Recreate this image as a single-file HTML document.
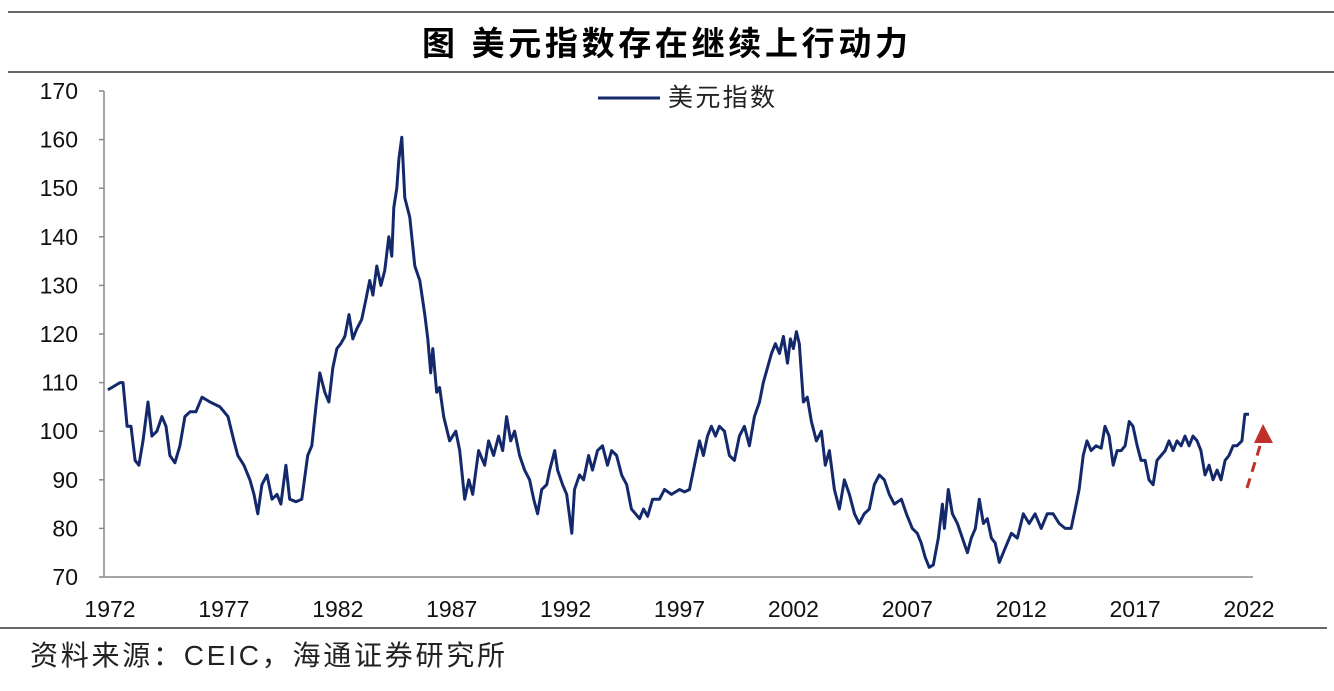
<!DOCTYPE html>
<html><head><meta charset="utf-8"><style>
body{margin:0;background:#fff;}
svg text{font-family:"Liberation Sans","Noto Sans CJK SC",sans-serif;}
</style></head><body>
<svg width="1334" height="686" viewBox="0 0 1334 686" xmlns="http://www.w3.org/2000/svg">
<line x1="8" y1="12" x2="1334" y2="12" stroke="#333" stroke-width="1.5"/>
<text x="422" y="55" font-size="33" font-weight="bold" fill="#000" textLength="486" lengthAdjust="spacing">图 美元指数存在继续上行动力</text>
<line x1="8" y1="72" x2="1334" y2="72" stroke="#333" stroke-width="1.5"/>
<g id="yaxis"></g>
<g id="xaxis"></g>
<path id="series" fill="none" stroke="#14296b" stroke-width="3" stroke-linejoin="round"/>
<g>
<line x1="598" y1="98" x2="660" y2="98" stroke="#14296b" stroke-width="3"/>
<text x="668" y="106" font-size="25" fill="#222" textLength="107" lengthAdjust="spacing">美元指数</text>
</g>
<g>
<line x1="1247" y1="488" x2="1260" y2="446" stroke="#c0302a" stroke-width="3" stroke-dasharray="10,7"/>
<polygon points="1263,424 1254,443 1273,443" fill="#c0302a"/>
</g>
<line x1="0" y1="628" x2="1327" y2="628" stroke="#333" stroke-width="1.5"/>
<text x="30" y="665" font-size="28" fill="#222" textLength="475" lengthAdjust="spacing">资料来源：CEIC，海通证券研究所</text>
</svg>
<script>
const yTicks=[70,80,90,100,110,120,130,140,150,160,170];
const xTickLabels=["1972","1977","1982","1987","1992","1997","2002","2007","2012","2017","2022"];
const dates=[1971.91,1972.44,1972.57,1972.75,1972.92,1973.10,1973.27,1973.45,1973.67,1973.84,1974.06,1974.28,1974.46,1974.63,1974.85,1975.07,1975.29,1975.51,1975.77,1976.04,1976.39,1976.83,1977.18,1977.44,1977.61,1977.88,1978.14,1978.32,1978.49,1978.67,1978.89,1979.11,1979.33,1979.50,1979.72,1979.89,1980.16,1980.42,1980.68,1980.86,1981.04,1981.21,1981.43,1981.61,1981.78,1981.96,1982.13,1982.31,1982.49,1982.66,1982.83,1983.05,1983.23,1983.40,1983.54,1983.71,1983.89,1984.06,1984.24,1984.37,1984.46,1984.59,1984.68,1984.81,1984.94,1985.16,1985.38,1985.60,1985.82,1985.95,1986.08,1986.17,1986.34,1986.47,1986.65,1986.91,1987.18,1987.35,1987.57,1987.75,1987.92,1988.18,1988.45,1988.62,1988.84,1989.06,1989.24,1989.41,1989.59,1989.76,1989.98,1990.20,1990.42,1990.60,1990.77,1990.95,1991.17,1991.30,1991.52,1991.65,1991.87,1992.05,1992.27,1992.39,1992.61,1992.79,1993.01,1993.18,1993.40,1993.62,1993.84,1994.02,1994.24,1994.46,1994.68,1994.89,1995.07,1995.25,1995.42,1995.60,1995.82,1996.12,1996.34,1996.65,1997.00,1997.22,1997.44,1997.70,1997.88,1998.05,1998.23,1998.40,1998.58,1998.75,1998.97,1999.19,1999.41,1999.63,1999.85,2000.07,2000.29,2000.51,2000.68,2000.86,2001.04,2001.21,2001.39,2001.56,2001.74,2001.87,2002.00,2002.13,2002.26,2002.44,2002.61,2002.79,2003.01,2003.23,2003.40,2003.58,2003.80,2004.02,2004.24,2004.46,2004.68,2004.89,2005.11,2005.33,2005.55,2005.77,2005.99,2006.21,2006.43,2006.74,2006.96,2007.22,2007.44,2007.61,2007.79,2007.96,2008.14,2008.36,2008.54,2008.63,2008.80,2008.98,2009.20,2009.42,2009.64,2009.81,2009.99,2010.16,2010.34,2010.51,2010.69,2010.86,2011.04,2011.30,2011.57,2011.83,2012.09,2012.35,2012.61,2012.88,2013.14,2013.40,2013.67,2013.93,2014.19,2014.37,2014.54,2014.72,2014.89,2015.07,2015.29,2015.51,2015.68,2015.86,2016.04,2016.21,2016.39,2016.56,2016.74,2016.91,2017.09,2017.26,2017.44,2017.61,2017.79,2017.96,2018.14,2018.32,2018.49,2018.67,2018.84,2019.02,2019.19,2019.37,2019.54,2019.72,2019.89,2020.07,2020.25,2020.42,2020.60,2020.77,2020.95,2021.12,2021.30,2021.47,2021.69,2021.82,2022.00];
const values=[108.5,110,110,101,101,94,93,98,106,99,100,103,101,95,93.5,97,103,104,104,107,106,105,103,98,95,93,90,87,83,89,91,86,87,85,93,86,85.5,86,95,97,105,112,108,106,113,117,118,119.5,124,119,121,123,127,131,128,134,130,133,140,136,146,150,156,160.5,148,144,134,131,124,119,112,117,108,109,103,98,100,96,86,90,87,96,93,98,95,99,96,103,98,100,95,92,90,86,83,88,89,92,96,92,89,87,79,88,91,90,95,92,96,97,93,96,95,91,89,84,83,82,84,82.5,86,86,88,87,88,87.5,88,94,98,95,99,101,99,101,100,95,94,99,101,97,103,106,110,113,116,118,116,119.5,114,119,117,120.5,118,106,107,102,98,100,93,96,88,84,90,87,83,81,83,84,89,91,90,87,85,86,83,80,79,77,74,72,72.5,78,85,80,88,83,81,78,75,78,80,86,81,82,78,77,73,76,79,78,83,81,83,80,83,83,81,80,80,84,88,95,98,96,97,96.5,101,99,93,96,96,97,102,101,97,94,94,90,89,94,95,96,98,96,98,97,99,97,99,98,96,91,93,90,92,90,94,95,97,97,98,103.5,103.5];
const NS="http://www.w3.org/2000/svg";
const X=v=>110+(v-1972)*22.78;
const Y=v=>577-(v-70)*4.86;
const ya=document.getElementById('yaxis');
let l=document.createElementNS(NS,'line');
l.setAttribute('x1',104);l.setAttribute('x2',104);l.setAttribute('y1',Y(170));l.setAttribute('y2',Y(70));
l.setAttribute('stroke','#888');l.setAttribute('stroke-width','1.5');


ya.appendChild(l);
yTicks.forEach(t=>{
 const k=document.createElementNS(NS,'line');
 k.setAttribute('x1',99);k.setAttribute('x2',104);k.setAttribute('y1',Y(t));k.setAttribute('y2',Y(t));
 k.setAttribute('stroke','#888');k.setAttribute('stroke-width','1.5');
 
 
 ya.appendChild(k);
 const tx=document.createElementNS(NS,'text');
 tx.setAttribute('x',78);tx.setAttribute('y',Y(t)+8);tx.setAttribute('text-anchor','end');
 tx.setAttribute('font-size','23');tx.setAttribute('fill','#111');
 
 
 tx.textContent=t;ya.appendChild(tx);
});
const xa=document.getElementById('xaxis');
l=document.createElementNS(NS,'line');
l.setAttribute('x1',104);l.setAttribute('x2',1253);l.setAttribute('y1',Y(70));l.setAttribute('y2',Y(70));
l.setAttribute('stroke','#888');l.setAttribute('stroke-width','1.5');


xa.appendChild(l);
xTickLabels.forEach(s=>{
 const tx=document.createElementNS(NS,'text');
 tx.setAttribute('x',X(+s));tx.setAttribute('y',617);tx.setAttribute('text-anchor','middle');
 tx.setAttribute('font-size','23');tx.setAttribute('fill','#111');
 
 
 tx.textContent=s;xa.appendChild(tx);
});
document.getElementById('series').setAttribute('d',dates.map((d,i)=>(i?'L':'M')+X(d).toFixed(1)+','+Y(values[i]).toFixed(1)).join(''));
</script>
</body></html>
